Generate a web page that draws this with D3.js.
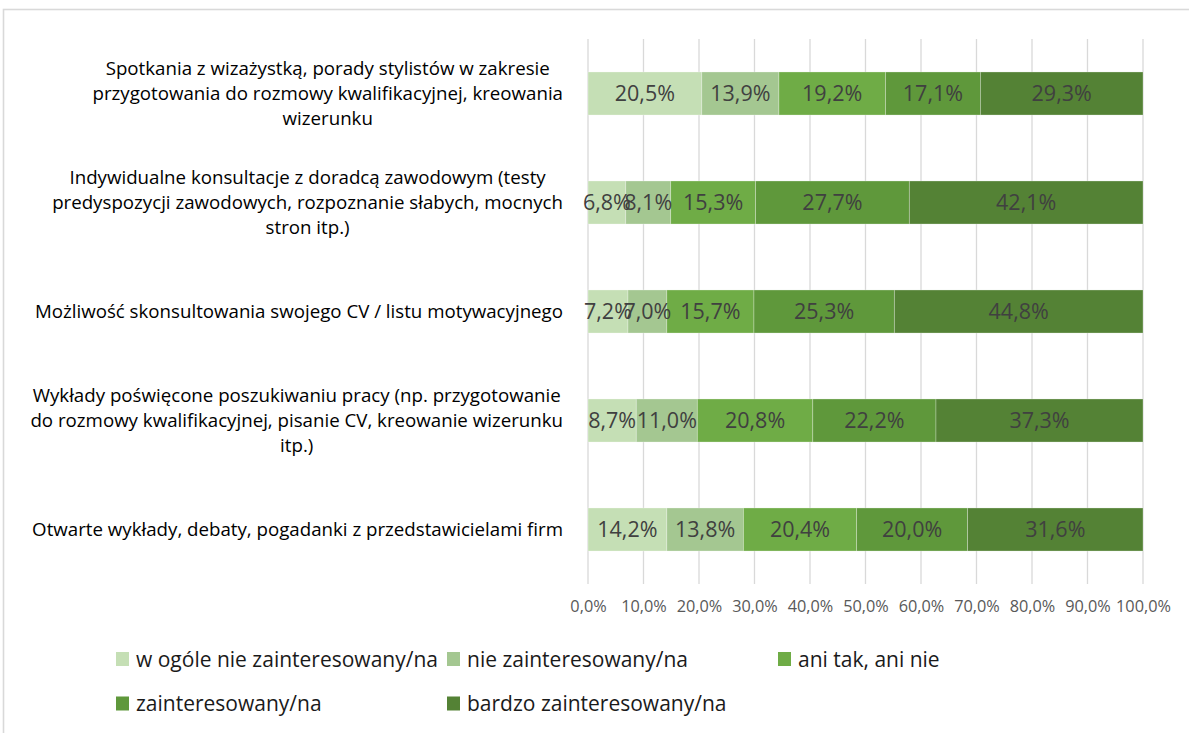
<!DOCTYPE html>
<html>
<head>
<meta charset="utf-8">
<script src="https://cdn.jsdelivr.net/npm/d3@7"></script>
<style>
  body { margin: 0; background: #fff; }
  svg { display: block; font-family: "Open Sans", Lato, sans-serif; }
</style>
</head>
<body>
<script>
const categories = [
  ["Spotkania z wizażystką, porady stylistów w zakresie", "przygotowania do rozmowy kwalifikacyjnej, kreowania", "wizerunku"],
  ["Indywidualne konsultacje z doradcą zawodowym (testy", "predyspozycji zawodowych, rozpoznanie słabych, mocnych", "stron itp.)"],
  ["Możliwość skonsultowania swojego CV / listu motywacyjnego"],
  ["Wykłady poświęcone poszukiwaniu pracy (np. przygotowanie", "do rozmowy kwalifikacyjnej, pisanie CV, kreowanie wizerunku", "itp.)"],
  ["Otwarte wykłady, debaty, pogadanki z przedstawicielami firm"]
];
const seriesNames = [
  "w ogóle nie zainteresowany/na",
  "nie zainteresowany/na",
  "ani tak, ani nie",
  "zainteresowany/na",
  "bardzo zainteresowany/na"
];
// one array per series, in category order
const notAtAll   = [20.5, 6.8, 7.2, 8.7, 14.2];
const notInt     = [13.9, 8.1, 7.0, 11.0, 13.8];
const neutral    = [19.2, 15.3, 15.7, 20.8, 20.4];
const interested = [17.1, 27.7, 25.3, 22.2, 20.0];
const veryInt    = [29.3, 42.1, 44.8, 37.3, 31.6];
const tickValues = [0, 10, 20, 30, 40, 50, 60, 70, 80, 90, 100];

const colors = ["#c5dfb5", "#a4c791", "#6fac46", "#5f983b", "#548235"];
const series = [notAtAll, notInt, neutral, interested, veryInt];

const w = 1189, h = 733;
const svg = d3.select("body").append("svg").attr("width", w).attr("height", h);

const pl = d3.formatLocale({decimal: ",", thousands: " ", grouping: [3], currency: ["", " zł"]});
const fmt = v => pl.format(".1f")(v) + "%";

// chart frame
svg.append("rect")
  .attr("x", 3.5).attr("y", 9.5)
  .attr("width", w + 20).attr("height", h + 20)
  .attr("fill", "none").attr("stroke", "#d9d9d9").attr("stroke-width", 1.6);

const x = d3.scaleLinear().domain([0, 100]).range([588, 1143]);
const y = d3.scaleBand().domain(d3.range(categories.length)).range([39, 584]).paddingInner(0.605).paddingOuter(0.3025);

// gridlines
svg.append("g").selectAll("line")
  .data(tickValues).enter().append("line")
  .attr("x1", d => x(d)).attr("x2", d => x(d))
  .attr("y1", 39).attr("y2", 584)
  .attr("stroke", "#d9d9d9").attr("stroke-width", 1.3);

// tick labels
const axis = d3.axisBottom(x).tickValues(tickValues).tickSize(0).tickPadding(0).tickFormat(fmt);
const ax = svg.append("g").attr("transform", "translate(0,600)").call(axis);
ax.select(".domain").remove();
ax.selectAll("text").attr("fill", "#595959").style("font-size", "16.3px").style("font-family", "'Open Sans', sans-serif");

// stacked segments
const stacked = categories.map((c, i) => {
  let acc = 0;
  return series.map((s, k) => {
    const seg = {row: i, k: k, x0: acc, x1: acc + s[i], v: s[i]};
    acc += s[i];
    return seg;
  });
});

const rows = svg.append("g").selectAll("g").data(stacked).enter().append("g");
rows.selectAll("rect").data(d => d).enter().append("rect")
  .attr("x", d => x(d.x0))
  .attr("y", d => y(d.row))
  .attr("width", d => x(d.x1) - x(d.x0))
  .attr("height", y.bandwidth())
  .attr("fill", d => colors[d.k])
  .attr("stroke", "#ffffff").attr("stroke-opacity", 0.35).attr("stroke-width", 0.8);

rows.selectAll("text").data(d => d).enter().append("text")
  .attr("x", d => (x(d.x0) + x(d.x1)) / 2)
  .attr("y", d => y(d.row) + y.bandwidth() / 2)
  .attr("dy", "0.36em")
  .attr("text-anchor", "middle")
  .attr("fill", "#404040")
  .style("font-size", "21.5px")
  .text(d => fmt(d.v));

// category labels: lines centred inside a block whose right edge is fixed
const labelRight = 563, lineH = 25;
categories.forEach((lines, i) => {
  const g = svg.append("g");
  const texts = g.selectAll("text").data(lines).enter().append("text")
    .attr("y", (d, j) => y(i) + y.bandwidth() / 2 + (j - (lines.length - 1) / 2) * lineH)
    .attr("dy", "0.36em")
    .attr("text-anchor", "middle")
    .attr("fill", "#000")
    .style("font-size", "18.7px")
    .text(d => d);
  let maxW = 0;
  texts.each(function () { maxW = Math.max(maxW, this.getComputedTextLength()); });
  texts.attr("x", labelRight - maxW / 2);
});

// legend
const legendCols = 3, colW = 331, legX = 116, legY = 659, rowH = 44.5;
const legend = svg.append("g").selectAll("g").data(seriesNames).enter().append("g")
  .attr("transform", (d, i) => "translate(" + (legX + (i % legendCols) * colW) + "," + (legY + Math.floor(i / legendCols) * rowH) + ")");
legend.append("rect")
  .attr("x", 0).attr("y", -7).attr("width", 13).attr("height", 14)
  .attr("fill", (d, i) => colors[i]);
legend.append("text")
  .attr("x", 20).attr("dy", "0.36em")
  .attr("fill", "#1a1a1a")
  .style("font-size", "21px")
  .text(d => d);
</script>
</body>
</html>
